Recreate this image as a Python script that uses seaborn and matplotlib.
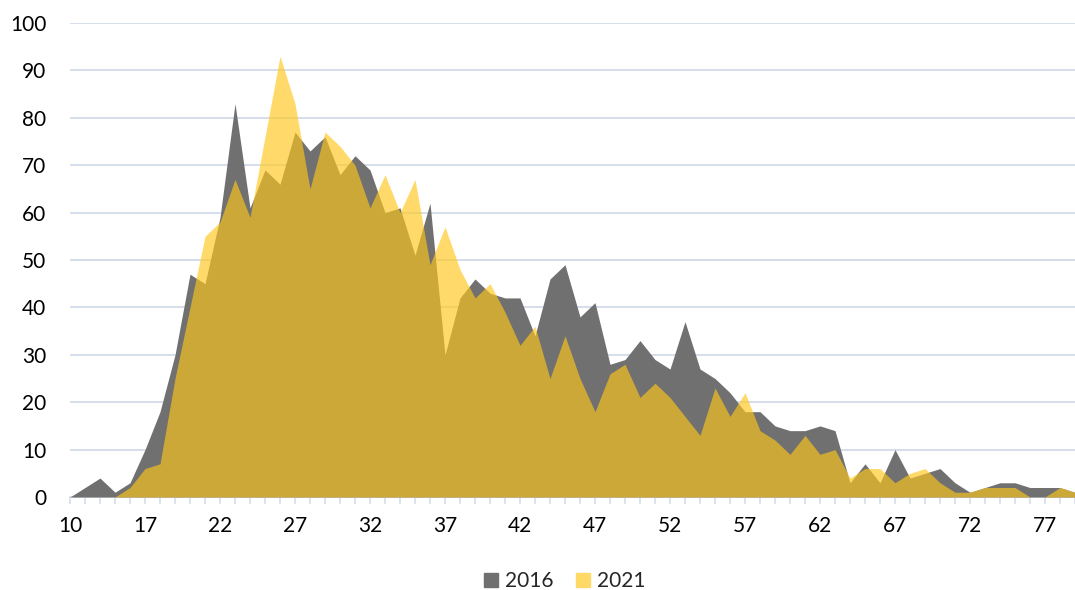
import matplotlib
matplotlib.use("Agg")
import matplotlib.pyplot as plt
from matplotlib.lines import Line2D
from matplotlib.ticker import FixedLocator, MultipleLocator
import pandas as pd
import seaborn as sns

# Age categories on the horizontal axis
ages = ["10", "13", "14", "15", "16", "17", "18", "19", "20", "21", "22", "23",
        "24", "25", "26", "27", "28", "29", "30", "31", "32", "33", "34", "35",
        "36", "37", "38", "39", "40", "41", "42", "43", "44", "45", "46", "47",
        "48", "49", "50", "51", "52", "53", "54", "55", "56", "57", "58", "59",
        "60", "61", "62", "63", "64", "65", "66", "67", "68", "69", "70", "71",
        "72", "73", "74", "75", "76", "77", "78", "79"]

# Counts per age
counts_2016 = [0, 2, 4, 1, 3, 10, 18, 30, 47, 45, 59, 83,
               61, 69, 66, 77, 73, 76, 68, 72, 69, 60, 61, 51,
               62, 30, 42, 46, 43, 42, 42, 34, 46, 49, 38, 41,
               28, 29, 33, 29, 27, 37, 27, 25, 22, 18, 18, 15,
               14, 14, 15, 14, 3, 7, 3, 10, 4, 5, 6, 3,
               1, 2, 3, 3, 2, 2, 2, 1]
counts_2021 = [0, 0, 0, 0, 2, 6, 7, 25, 40, 55, 58, 67,
               59, 76, 93, 83, 65, 77, 74, 70, 61, 68, 60, 67,
               49, 57, 48, 42, 45, 39, 32, 36, 25, 34, 25, 18,
               26, 28, 21, 24, 21, 17, 13, 23, 17, 22, 14, 12,
               9, 13, 9, 10, 4, 6, 6, 3, 5, 6, 3, 1,
               1, 2, 2, 2, 0, 0, 2, 1]

series_names = ["2016", "2021"]

df = pd.DataFrame({"age": ages, "2016": counts_2016, "2021": counts_2021})
df["pos"] = range(len(df))

GRAY = "#707070"
GOLD_BASE = (1.0, 0.78, 0.10)
GOLD_ALPHA = 0.65
GOLD_LIGHT = "#FFD966"
GRID = "#D6DEEB"

sns.set_style("white")
plt.rcParams["font.family"] = ["Lato", "DejaVu Sans"]

fig = plt.figure(figsize=(10.75, 5.90), dpi=100)
ax = fig.add_axes([70 / 1075, 93 / 590, 1005 / 1075, 474 / 590])

# Outlines via seaborn, then filled areas
sns.lineplot(data=df, x="pos", y="2016", ax=ax, color=GRAY, linewidth=0)
sns.lineplot(data=df, x="pos", y="2021", ax=ax, color=GOLD_LIGHT, linewidth=0)
ax.fill_between(df["pos"], 0, df["2016"], color=GRAY, linewidth=0, zorder=2)
ax.fill_between(df["pos"], 0, df["2021"], color=GOLD_BASE, alpha=GOLD_ALPHA,
                linewidth=0, zorder=3)

ax.set_xlim(0, len(df) - 1)
ax.set_ylim(0, 100)
ax.set_xlabel("")
ax.set_ylabel("")

# Y axis: gridlines every 10, no spine
ax.yaxis.set_major_locator(MultipleLocator(10))
ax.grid(axis="y", color=GRID, linewidth=1.4, zorder=0)
ax.grid(axis="x", visible=False)
ax.set_axisbelow(True)
for side in ["left", "right", "top"]:
    ax.spines[side].set_visible(False)
ax.spines["bottom"].set_color(GRID)
ax.spines["bottom"].set_linewidth(1.4)
ax.spines["bottom"].set_zorder(1)

# X axis: a tick at every category, label every fifth
label_pos = list(range(0, len(df), 5))
ax.xaxis.set_major_locator(FixedLocator(label_pos))
ax.set_xticklabels([ages[i] for i in label_pos])
ax.xaxis.set_minor_locator(FixedLocator(list(range(len(df)))))
ax.tick_params(axis="x", which="both", direction="out", length=5, width=1.2,
               color=GRID, bottom=True, labelsize=15, pad=9,
               labelcolor="#000000")
ax.tick_params(axis="y", length=0, labelsize=15, pad=17, labelcolor="#000000")

handles = [Line2D([], [], marker="s", linestyle="none", markersize=10,
                  markerfacecolor=GRAY, markeredgecolor=GRAY),
           Line2D([], [], marker="s", linestyle="none", markersize=10,
                  markerfacecolor=GOLD_LIGHT, markeredgecolor=GOLD_LIGHT)]
fig.legend(handles, series_names, loc="center", ncol=2, frameon=False,
           bbox_to_anchor=(564 / 1075, 9 / 590), fontsize=15,
           handlelength=0.8, handletextpad=0.3, columnspacing=1.0)

fig.savefig("out.png", dpi=100)
